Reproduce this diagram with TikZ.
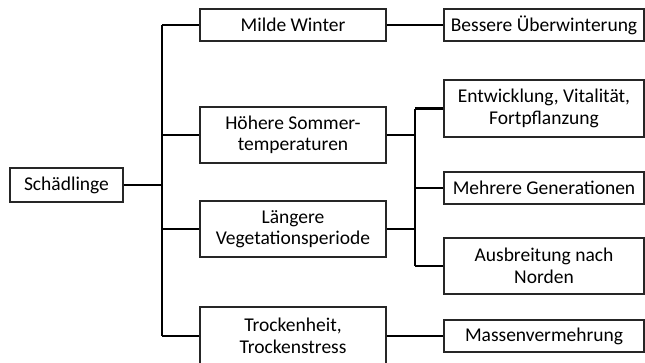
\documentclass[tikz,border=0pt]{standalone}
\usepackage{fontspec}
\setmainfont{Carlito}
\begin{document}
\begin{tikzpicture}[x=1pt,y=-1pt,
  box/.style={draw=black!85,line width=1.2pt,fill=white,align=center,inner sep=0pt,
    font=\fontsize{19.5}{21.5}\selectfont},
  wbox/.style={box,minimum width=186pt},
  rbox/.style={box,minimum width=200pt},
  link/.style={line width=2.2pt,black}]
\useasboundingbox (0,0) rectangle (645,362);
\node[box,minimum width=113pt,minimum height=34pt] (S) at (66.5,185) {Schädlinge};
\node[wbox,minimum height=32pt] (MW) at (293,25) {Milde Winter};
\node[wbox,minimum height=56pt] (HS) at (293,135) {Höhere Sommer-\\temperaturen};
\node[wbox,minimum height=56pt] (LV) at (293,229) {Längere\\Vegetationsperiode};
\node[wbox,minimum height=58pt] (TT) at (293,336) {Trockenheit,\\Trockenstress};
\node[rbox,minimum height=32pt] (BU) at (544,25) {Bessere Überwinterung};
\node[rbox,minimum height=57pt] (EV) at (544,108.5) {Entwicklung, Vitalität,\\Fortpflanzung};
\node[rbox,minimum height=32pt] (MG) at (544,188) {Mehrere Generationen};
\node[rbox,minimum height=56pt] (AN) at (544,266) {Ausbreitung nach\\Norden};
\node[rbox,minimum height=32pt] (MV) at (544,336) {Massenvermehrung};
\coordinate (t1) at (162,0);
\coordinate (t2) at (415,0);
% main trunk
\draw[link] (S.east) -- (S.east -| t1);
\draw[link] (MW.west -| t1) -- (TT.west -| t1);
\draw[link] (MW.west) -- (MW.west -| t1);
\draw[link] (HS.west) -- (HS.west -| t1);
\draw[link] (LV.west) -- (LV.west -| t1);
\draw[link] (TT.west) -- (TT.west -| t1);
% direct links
\draw[link] (MW.east) -- (BU.west);
\draw[link] (TT.east) -- (MV.west);
% secondary trunk
\draw[link] (EV.west -| t2) -- (AN.west -| t2);
\draw[link] (HS.east) -- (HS.east -| t2);
\draw[link] (LV.east) -- (LV.east -| t2);
\draw[link] (EV.west) -- (EV.west -| t2);
\draw[link] (MG.west) -- (MG.west -| t2);
\draw[link] (AN.west) -- (AN.west -| t2);
\end{tikzpicture}
\end{document}
